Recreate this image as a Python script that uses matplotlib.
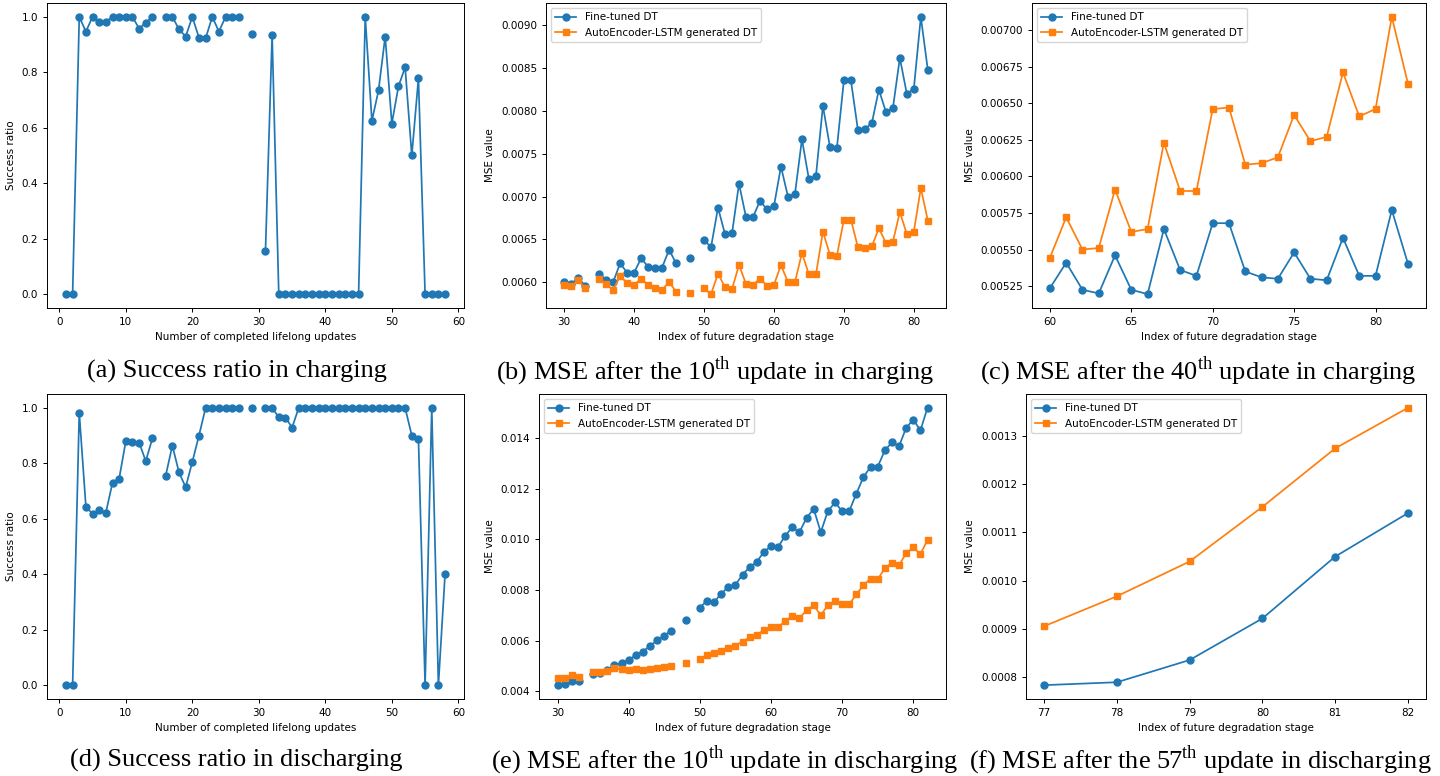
import numpy as np
import matplotlib
matplotlib.use("Agg")
import matplotlib.pyplot as plt

nan = np.nan

# success ratio vs. number of completed lifelong updates
updates = list(range(1, 59))
success_charge = [0, 0, 1.0, 0.947, 1.0, 0.982, 0.982, 1.0, 1.0, 1.0,
                  1.0, 0.958, 0.979, 1.0, nan, 1.0, 1.0, 0.955, 0.929, 1.0,
                  0.925, 0.923, 1.0, 0.947, 1.0, 1.0, 1.0, nan, 0.939, nan,
                  0.157, 0.936, 0, 0, 0, 0, 0, 0, 0, 0,
                  0, 0, 0, 0, 0, 1.0, 0.625, 0.735, 0.929, 0.615,
                  0.75, 0.818, 0.5, 0.778, 0, 0, 0, 0]
success_discharge = [0, 0, 0.982, 0.643, 0.618, 0.63, 0.622, 0.73, 0.745, 0.88,
                     0.878, 0.875, 0.808, 0.89, nan, 0.756, 0.864, 0.767, 0.714, 0.805,
                     0.9, 1.0, 1.0, 1.0, 1.0, 1.0, 1.0, nan, 1.0, nan,
                     1.0, 1.0, 0.966, 0.965, 0.929, 1.0, 1.0, 1.0, 1.0, 1.0,
                     1.0, 1.0, 1.0, 1.0, 1.0, 1.0, 1.0, 1.0, 1.0, 1.0,
                     1.0, 1.0, 0.9, 0.889, 0, 1.0, 0, 0.4]

# MSE after the 10th update (stages 30..82)
stages_10 = list(range(30, 83))
ft_charge_10 = [0.00600, 0.00598, 0.00605, 0.00596, nan, 0.00610, 0.00603, 0.00600, 0.00622, 0.00611,
                0.00611, 0.00628, 0.00618, 0.00616, 0.00617, 0.00638, 0.00622, nan, 0.00628, nan,
                0.00649, 0.00641, 0.00687, 0.00656, 0.00657, 0.00715, 0.00676, 0.00676, 0.00695, 0.00685,
                0.00689, 0.00735, 0.00700, 0.00703, 0.00767, 0.00720, 0.00724, 0.00806, 0.00758, 0.00757,
                0.00836, 0.00836, 0.00778, 0.00779, 0.00786, 0.00825, 0.00799, 0.00803, 0.00862, 0.00820,
                0.00826, 0.00910, 0.00848]
ae_charge_10 = [0.00597, 0.00595, 0.00602, 0.00593, nan, 0.00604, 0.00598, 0.00591, 0.00607, 0.00599,
                0.00597, 0.00604, 0.00597, 0.00593, 0.00591, 0.00600, 0.00589, nan, 0.00587, nan,
                0.00593, 0.00586, 0.00610, 0.00594, 0.00592, 0.00620, 0.00598, 0.00597, 0.00604, 0.00596,
                0.00597, 0.00620, 0.00600, 0.00600, 0.00634, 0.00609, 0.00609, 0.00659, 0.00632, 0.00631,
                0.00673, 0.00673, 0.00641, 0.00640, 0.00642, 0.00663, 0.00646, 0.00647, 0.00682, 0.00656,
                0.00659, 0.00710, 0.00672]
ft_discharge_10 = [0.00425, 0.00430, 0.00442, 0.00442, nan, 0.00468, 0.00472, 0.00484, 0.00505, 0.00512,
                   0.00525, 0.00543, 0.00557, 0.00580, 0.00601, 0.00620, 0.00640, nan, 0.00681, nan,
                   0.00731, 0.00757, 0.00752, 0.00785, 0.00812, 0.00820, 0.00861, 0.00890, 0.00911, 0.00950,
                   0.00973, 0.00969, 0.01014, 0.01047, 0.01028, 0.01084, 0.01120, 0.01028, 0.01111, 0.01145,
                   0.01111, 0.01111, 0.01180, 0.01245, 0.01286, 0.01286, 0.01350, 0.01382, 0.01367, 0.01439,
                   0.01472, 0.01429, 0.01518]
ae_discharge_10 = [0.00452, 0.00454, 0.00464, 0.00459, nan, 0.00475, 0.00477, 0.00481, 0.00491, 0.00487,
                   0.00484, 0.00488, 0.00484, 0.00487, 0.00491, 0.00497, 0.00500, nan, 0.00512, nan,
                   0.00529, 0.00542, 0.00550, 0.00560, 0.00572, 0.00581, 0.00597, 0.00613, 0.00622, 0.00643,
                   0.00656, 0.00653, 0.00678, 0.00697, 0.00689, 0.00720, 0.00740, 0.00701, 0.00740, 0.00758,
                   0.00744, 0.00744, 0.00783, 0.00819, 0.00845, 0.00842, 0.00886, 0.00907, 0.00898, 0.00945,
                   0.00968, 0.00941, 0.00997]

# MSE after the 40th update in charging (stages 60..82)
stages_40 = list(range(60, 83))
ft_charge_40 = [0.005236, 0.00541, 0.005225, 0.00520, 0.00546, 0.005225, 0.005195, 0.00564, 0.00536, 0.00532,
                0.00568, 0.00568, 0.00535, 0.00531, 0.00530, 0.00548, 0.00530, 0.00529, 0.00558, 0.00532,
                0.00532, 0.00577, 0.00540]
ae_charge_40 = [0.005444, 0.00572, 0.00550, 0.00551, 0.00591, 0.00562, 0.00564, 0.00623, 0.00590, 0.00590,
                0.00646, 0.00647, 0.00608, 0.00609, 0.00613, 0.00642, 0.00624, 0.00627, 0.00671, 0.00641,
                0.00646, 0.00709, 0.00663]

# MSE after the 57th update in discharging (stages 77..82)
stages_57 = list(range(77, 83))
ft_discharge_57 = [0.000784, 0.000790, 0.000836, 0.000922, 0.001050, 0.001140]
ae_discharge_57 = [0.000906, 0.000968, 0.001040, 0.001153, 0.001274, 0.001358]

captions = [
    "(a) Success ratio in charging",
    r"(b) MSE after the 10$^{\mathrm{th}}$ update in charging",
    r"(c) MSE after the 40$^{\mathrm{th}}$ update in charging",
    "(d) Success ratio in discharging",
    r"(e) MSE after the 10$^{\mathrm{th}}$ update in discharging",
    r"(f) MSE after the 57$^{\mathrm{th}}$ update in discharging",
]

FS = 7.5
plt.rcParams.update({
    "font.size": FS,
    "axes.linewidth": 0.7,
    "xtick.major.size": 2.9,
    "ytick.major.size": 2.9,
    "xtick.major.width": 0.7,
    "ytick.major.width": 0.7,
    "lines.linewidth": 1.25,
    "lines.markersize": 5,
    "legend.fontsize": FS,
    "mathtext.fontset": "custom",
    "mathtext.rm": "Liberation Serif",
})

W, H = 1440, 776
fig = plt.figure(figsize=(W / 100, H / 100), dpi=100)


def add_ax(left, top, right, bottom):
    return fig.add_axes([left / W, 1 - bottom / H, (right - left) / W, (bottom - top) / H])


def success_panel(ax, y):
    ax.plot(updates, y, "o-")
    ax.set_xlabel("Number of completed lifelong updates")
    ax.set_ylabel("Success ratio")


def mse_panel(ax, x, ft, ae):
    ax.plot(x, ft, "o-", label="Fine-tuned DT")
    ax.plot(x, ae, "s-", label="AutoEncoder-LSTM generated DT")
    ax.set_xlabel("Index of future degradation stage")
    ax.set_ylabel("MSE value")
    ax.legend(loc="upper left")


ax_a = add_ax(47, 3, 464, 308)
success_panel(ax_a, success_charge)

ax_b = add_ax(546, 3, 946, 308)
mse_panel(ax_b, stages_10, ft_charge_10, ae_charge_10)

ax_c = add_ax(1032, 3, 1426, 308)
mse_panel(ax_c, stages_40, ft_charge_40, ae_charge_40)

ax_d = add_ax(47, 394, 464, 699)
success_panel(ax_d, success_discharge)

ax_e = add_ax(539, 394, 946, 699)
mse_panel(ax_e, stages_10, ft_discharge_10, ae_discharge_10)

ax_f = add_ax(1026, 394, 1426, 699)
mse_panel(ax_f, stages_57, ft_discharge_57, ae_discharge_57)

cap_pos = [(237, 371), (715, 371), (1198, 371), (236, 760), (725, 760), (1200, 760)]
for (cx, cy), txt in zip(cap_pos, captions):
    fig.text(cx / W, 1 - cy / H, txt, ha="center", va="center",
             family="Liberation Serif", fontsize=19)

fig.savefig("out.png", dpi=100)
